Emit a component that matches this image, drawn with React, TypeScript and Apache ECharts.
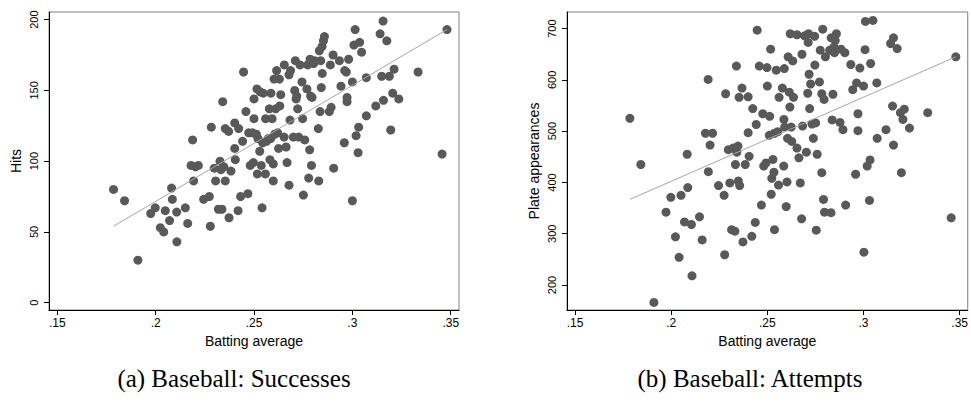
import React, { useEffect, useRef } from "react";
import * as echarts from "echarts";

// Panel (a): batting average vs hits
const battingA = [
  0.1786, 0.1842, 0.191, 0.1975, 0.1998, 0.2024, 0.2041, 0.2049, 0.2071, 0.2081,
  0.2085, 0.2107, 0.2108, 0.2151, 0.2163, 0.2188, 0.218, 0.2193, 0.2203, 0.2217,
  0.2244, 0.2273, 0.2278, 0.2283, 0.2298, 0.2305, 0.2319, 0.2327, 0.2332, 0.2337,
  0.2341, 0.2347, 0.2354, 0.2354, 0.2371, 0.2373, 0.2383, 0.2402, 0.2402, 0.2405,
  0.2419, 0.2422, 0.2432, 0.2442, 0.2447, 0.2459, 0.2469, 0.2473, 0.2481, 0.2493,
  0.2497, 0.25, 0.25, 0.2512, 0.2515, 0.2517, 0.252, 0.2529, 0.2531, 0.2537,
  0.2541, 0.2544, 0.2547, 0.2558, 0.2559, 0.2564, 0.2573, 0.2578, 0.2581, 0.2585,
  0.2586, 0.2592, 0.2598, 0.2598, 0.2602, 0.2605, 0.261, 0.2615, 0.262, 0.2625,
  0.2629, 0.2631, 0.2636, 0.2653, 0.2654, 0.2663, 0.2668, 0.2678, 0.2678, 0.2683,
  0.2686, 0.27, 0.2707, 0.271, 0.2714, 0.2717, 0.2722, 0.2727, 0.2734, 0.2744,
  0.2747, 0.2751, 0.2758, 0.2769, 0.2773, 0.2778, 0.2783, 0.2785, 0.2788, 0.2792,
  0.2795, 0.2803, 0.2808, 0.2827, 0.2829, 0.2832, 0.2836, 0.2839, 0.2842, 0.2846,
  0.2847, 0.2853, 0.2858, 0.2883, 0.2888, 0.2892, 0.2902, 0.2905, 0.2934, 0.2942,
  0.2959, 0.2961, 0.2969, 0.2973, 0.2973, 0.2981, 0.3, 0.3, 0.3008, 0.3014,
  0.3019, 0.3029, 0.3032, 0.3037, 0.3047, 0.3071, 0.3071, 0.3119, 0.3141, 0.3149,
  0.3156, 0.3158, 0.3175, 0.3188, 0.3195, 0.3205, 0.3212, 0.3236, 0.3334, 0.3456,
  0.3481,
];
const hits = [
  80, 72, 30, 63, 67, 53, 50, 65, 58, 81,
  73, 64, 43, 67, 56, 115, 97, 86, 96, 97,
  73, 75, 54, 124, 95, 86, 66, 100, 94, 66,
  142, 96, 86, 123, 121, 60, 93, 127, 109, 101,
  65, 123, 75, 114, 163, 135, 77, 120, 97, 120,
  99, 130, 144, 119, 151, 91, 116, 107, 149, 97,
  67, 113, 148, 91, 130, 114, 116, 137, 101, 116,
  148, 130, 98, 86, 158, 119, 137, 164, 120, 109,
  158, 139, 147, 117, 168, 110, 99, 161, 83, 129,
  164, 117, 150, 171, 144, 146, 137, 117, 168, 156,
  130, 76, 115, 151, 168, 88, 108, 172, 146, 97,
  145, 169, 171, 123, 86, 178, 135, 171, 152, 181,
  162, 185, 188, 135, 168, 138, 175, 95, 171, 153,
  113, 164, 163, 145, 142, 172, 156, 72, 182, 193,
  118, 106, 124, 184, 177, 159, 132, 139, 190, 160,
  199, 143, 185, 160, 122, 148, 165, 144, 163, 105,
  193,
];
const fitAX = [0.1786, 0.3481];
const fitAY = [54, 193];

// Panel (b): batting average vs plate appearances
const battingB = [
  0.1785, 0.1842, 0.191, 0.1973, 0.1998, 0.2022, 0.2041, 0.2051, 0.2069, 0.2083,
  0.2086, 0.2105, 0.2108, 0.2147, 0.2161, 0.2178, 0.2192, 0.2193, 0.2202, 0.2215,
  0.2246, 0.2275, 0.2278, 0.2283, 0.2297, 0.2305, 0.2314, 0.2322, 0.2331, 0.2334,
  0.2339, 0.2341, 0.2347, 0.2349, 0.2353, 0.2356, 0.2368, 0.2373, 0.2385, 0.24,
  0.24, 0.2405, 0.2419, 0.2424, 0.2437, 0.2442, 0.2447, 0.2458, 0.2469, 0.2476,
  0.2481, 0.2498, 0.2493, 0.25, 0.251, 0.2512, 0.2517, 0.252, 0.2523, 0.2529,
  0.2534, 0.2536, 0.2537, 0.2546, 0.2554, 0.2558, 0.2561, 0.2578, 0.2585, 0.2586,
  0.259, 0.2588, 0.2598, 0.2602, 0.2605, 0.2608, 0.2614, 0.2619, 0.2617, 0.2624,
  0.2627, 0.2632, 0.2636, 0.2654, 0.2654, 0.2664, 0.2671, 0.2678, 0.268, 0.2683,
  0.2693, 0.2703, 0.271, 0.2714, 0.2712, 0.2717, 0.272, 0.2725, 0.2732, 0.2739,
  0.2746, 0.2747, 0.2751, 0.2754, 0.2759, 0.2771, 0.2775, 0.2783, 0.2783, 0.2788,
  0.2792, 0.2795, 0.2797, 0.2802, 0.2824, 0.2831, 0.2832, 0.2837, 0.2841, 0.2846,
  0.2849, 0.2853, 0.2859, 0.2878, 0.2883, 0.2893, 0.2903, 0.2907, 0.2934, 0.2944,
  0.2959, 0.2964, 0.2971, 0.2971, 0.2981, 0.3, 0.3002, 0.3008, 0.301, 0.3019,
  0.3031, 0.3034, 0.3037, 0.3049, 0.3069, 0.3071, 0.3117, 0.3141, 0.3151, 0.3156,
  0.3156, 0.3175, 0.3192, 0.3197, 0.3205, 0.3212, 0.3239, 0.3334, 0.3456, 0.348,
];
const plateAppearances = [
  525, 435, 166, 342, 371, 294, 254, 375, 323, 455,
  390, 318, 218, 333, 288, 496, 601, 421, 473, 496,
  394, 375, 259, 573, 464, 399, 308, 467, 305, 435,
  627, 459, 471, 403, 566, 394, 584, 284, 435, 567,
  497, 451, 295, 544, 322, 513, 697, 627, 356, 534,
  432, 624, 438, 588, 492, 529, 660, 377, 408, 445,
  420, 496, 308, 619, 499, 395, 566, 584, 432, 523,
  508, 622, 353, 401, 486, 645, 576, 690, 547, 508,
  480, 637, 566, 688, 467, 448, 399, 329, 650, 510,
  686, 459, 574, 690, 673, 611, 544, 592, 514, 486,
  685, 629, 516, 307, 455, 596, 658, 419, 573, 699,
  367, 562, 342, 645, 658, 341, 682, 522, 572, 664,
  653, 677, 690, 517, 660, 503, 653, 356, 630, 581,
  416, 594, 534, 501, 623, 588, 264, 659, 714, 432,
  365, 444, 632, 716, 594, 486, 503, 671, 549, 473,
  682, 661, 536, 419, 523, 543, 506, 536, 331, 645,
];
const fitBX = [0.1785, 0.348];
const fitBY = [367, 645];

// Axis ticks
const xTicks = [0.15, 0.2, 0.25, 0.3, 0.35];
const yTicksA = [0, 50, 100, 150, 200];
const yTicksB = [200, 300, 400, 500, 600, 700];

const captionA = "(a) Baseball: Successes";
const captionB = "(b) Baseball: Attempts";

const SANS = "'Liberation Sans', Arial, sans-serif";
const SERIF = "'Liberation Serif', 'Times New Roman', serif";
const DOT = "#595959";
const FIT = "#a6a6a6";

const zip = (xs: number[], ys: number[]) => xs.map((x, i) => [x, ys[i]]);

const fmtX = (v: number) => {
  const s = String(Math.round(v * 1000) / 1000);
  return s.replace(/^0/, "");
};

function xAxis(gridIndex: number) {
  return {
    type: "value",
    gridIndex,
    min: 0.1458,
    max: 0.3542,
    name: "Batting average",
    nameLocation: "middle",
    nameGap: 24,
    nameTextStyle: { fontFamily: SANS, fontSize: 14, color: "#000" },
    axisLine: { show: true, onZero: false, lineStyle: { color: "#000", width: 1 } },
    axisTick: { show: true, length: 5, customValues: xTicks, lineStyle: { color: "#000" } },
    axisLabel: {
      customValues: xTicks,
      formatter: fmtX,
      fontFamily: SANS,
      fontSize: 12,
      color: "#000",
      margin: 7,
    },
    splitLine: { show: false },
  };
}

function yAxis(gridIndex: number, name: string, min: number, max: number, ticks: number[]) {
  return {
    type: "value",
    gridIndex,
    min,
    max,
    name,
    nameLocation: "middle",
    nameGap: 26,
    nameTextStyle: { fontFamily: SANS, fontSize: 14, color: "#000" },
    axisLine: { show: true, onZero: false, lineStyle: { color: "#000", width: 1 } },
    axisTick: { show: true, length: 5, customValues: ticks, lineStyle: { color: "#000" } },
    axisLabel: {
      customValues: ticks,
      rotate: 90,
      fontFamily: SANS,
      fontSize: 11,
      color: "#000",
      margin: 10,
    },
    splitLine: { show: false },
  };
}

export default function App() {
  const ref = useRef<HTMLDivElement>(null);

  useEffect(() => {
    if (!ref.current) return;
    const chart = echarts.init(ref.current, undefined, { renderer: "svg" });
    chart.setOption({
      animation: false,
      backgroundColor: "#fff",
      grid: [
        { left: 49, top: 12, width: 410, height: 298, show: true, borderColor: "#808080", borderWidth: 1, backgroundColor: "transparent" },
        { left: 567, top: 12, width: 410, height: 298, show: true, borderColor: "#808080", borderWidth: 1, backgroundColor: "transparent" },
      ],
      xAxis: [xAxis(0), xAxis(1)],
      yAxis: [
        yAxis(0, "Hits", -5.2, 205.4, yTicksA),
        yAxis(1, "Plate appearances", 151.3, 732.4, yTicksB),
      ],
      series: [
        {
          type: "scatter",
          xAxisIndex: 0,
          yAxisIndex: 0,
          data: zip(battingA, hits),
          symbolSize: 9,
          itemStyle: { color: DOT, opacity: 1 },
          z: 2,
        },
        {
          type: "line",
          xAxisIndex: 0,
          yAxisIndex: 0,
          data: zip(fitAX, fitAY),
          symbol: "none",
          lineStyle: { color: FIT, width: 1 },
          z: 3,
        },
        {
          type: "scatter",
          xAxisIndex: 1,
          yAxisIndex: 1,
          data: zip(battingB, plateAppearances),
          symbolSize: 9,
          itemStyle: { color: DOT, opacity: 1 },
          z: 2,
        },
        {
          type: "line",
          xAxisIndex: 1,
          yAxisIndex: 1,
          data: zip(fitBX, fitBY),
          symbol: "none",
          lineStyle: { color: FIT, width: 1 },
          z: 3,
        },
      ],
      graphic: [
        {
          type: "text",
          x: 234,
          y: 378,
          style: { text: captionA, fontFamily: SERIF, fontSize: 25, fill: "#000", align: "center", verticalAlign: "middle" },
        },
        {
          type: "text",
          x: 750,
          y: 378,
          style: { text: captionB, fontFamily: SERIF, fontSize: 25, fill: "#000", align: "center", verticalAlign: "middle" },
        },
      ],
    });
    return () => chart.dispose();
  }, []);

  return (
    <div
      ref={ref}
      style={{ position: "absolute", left: 0, top: 0, width: 971, height: 413 }}
    />
  );
}
